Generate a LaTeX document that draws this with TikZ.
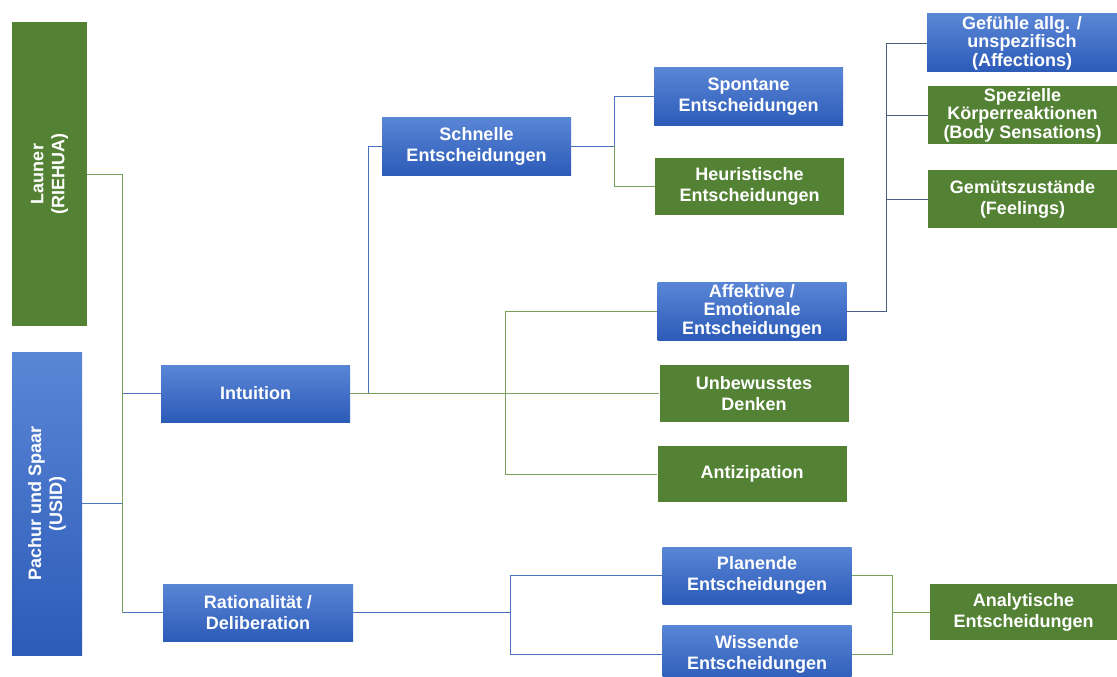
\documentclass[tikz,border=0pt]{standalone}
\usepackage{fontspec}
\setmainfont{Liberation Sans}
\definecolor{btop}{HTML}{5A86D6}
\definecolor{bbot}{HTML}{2C5BB8}
\definecolor{gbox}{HTML}{548235}
\definecolor{bline}{HTML}{4A74C0}
\definecolor{gline}{HTML}{77A158}
\definecolor{dline}{HTML}{4A5F86}
\tikzset{
  box/.style={rectangle, inner sep=1pt, text=white, align=center,
    font=\fontsize{18}{21}\selectfont\bfseries,
    minimum width=189pt, minimum height=57pt},
  bluebox/.style={box, top color=btop, bottom color=bbot},
  greenbox/.style={box, fill=gbox},
  tighttext/.style={font=\fontsize{18}{18.5}\selectfont\bfseries},
  bl/.style={draw=bline, line width=0.8pt},
  gl/.style={draw=gline, line width=0.8pt},
  dl/.style={draw=dline, line width=0.8pt}
}
\begin{document}
\begin{tikzpicture}[x=1pt,y=-1pt]
\useasboundingbox (0,0) rectangle (1117,677);
\clip (0,0) rectangle (1117,677);
\fill[white] (0,0) rectangle (1117,677);

% junction coordinates
\coordinate (tk) at (122,0);
\coordinate (j1) at (368,393.5);
\coordinate (j2) at (505,393.5);
\coordinate (j3) at (614,146);
\coordinate (j4) at (886,311);
\coordinate (j5) at (510,612.5);
\coordinate (j6) at (892,612);

% left vertical boxes
\node[box, fill=gbox, rotate=90, minimum width=304pt, minimum height=75pt] (L) at (49.5,174) {Launer\\(RIEHUA)};
\node[box, rotate=90, top color=btop, bottom color=bbot, minimum width=303pt, minimum height=70pt] (P) at (47,503.5) {Pachur und Spaar\\(USID)};

% level 1
\node[bluebox] (int) at (255.5,393.5) {Intuition};
\node[bluebox, minimum width=190pt] (rat) at (258,612.5) {Rationalität /\\Deliberation};

% level 2
\node[bluebox, minimum height=58pt] (sch) at (476.5,146) {Schnelle\\Entscheidungen};
\node[bluebox] (spo) at (748.5,96.5) {Spontane\\Entscheidungen};
\node[greenbox] (heu) at (749.5,186.5) {Heuristische\\Entscheidungen};
\node[bluebox, minimum height=58pt, tighttext] (aff) at (752,311) {Affektive /\\Emotionale\\Entscheidungen};
\node[greenbox] (unb) at (754,393.5) {Unbewusstes\\Denken};
\node[greenbox, minimum height=56pt] (ant) at (752,474) {Antizipation};

% top right
\node[bluebox, minimum width=190pt, minimum height=58pt, tighttext] (gef) at (1022,43) {Gefühle allg. /\\unspezifisch\\(Affections)};
\node[greenbox, minimum height=58pt, tighttext] (spe) at (1022.5,115) {Spezielle\\Körperreaktionen\\(Body Sensations)};
\node[greenbox, minimum height=58pt] (gem) at (1022.5,199) {Gemütszustände\\(Feelings)};

% bottom
\node[bluebox] (pla) at (757,575.5) {Planende\\Entscheidungen};
\node[bluebox, minimum height=58pt] (wis) at (757,654) {Wissende\\Entscheidungen};
\node[greenbox, minimum width=187pt, minimum height=56pt] (ana) at (1023.5,612) {Analytische\\Entscheidungen};

% connectors: left trunk
\draw[bl] (P.south) -- (P.south -| tk);
\draw[bl] (tk |- int.west) -- (int.west);
\draw[bl] (tk |- rat.west) -- (rat.west);
\draw[gl] (L.south) -| (tk |- rat.west);

% Intuition
\draw[bl] (int.east) -- (j1) |- (sch.west);
\draw[gl] (int.east) -- (j2) -- (unb.west);
\draw[gl] (j2) |- (aff.west);
\draw[gl] (j2) |- (ant.west);

% Schnelle
\draw[bl] (sch.east) -- (j3) |- (spo.west);
\draw[gl] (j3) |- (heu.west);

% Affektive
\draw[dl] (aff.east) -- (j4) |- (gef.west);
\draw[dl] (j4 |- spe.west) -- (spe.west);
\draw[dl] (j4 |- gem.west) -- (gem.west);

% Rationalitaet
\draw[bl] (rat.east) -- (j5) |- (pla.west);
\draw[bl] (j5) |- (wis.west);

% Analytische
\draw[gl] (pla.east) -| (j6);
\draw[gl] (wis.east) -| (j6);
\draw[gl] (j6) -- (ana.west);
\end{tikzpicture}
\end{document}
